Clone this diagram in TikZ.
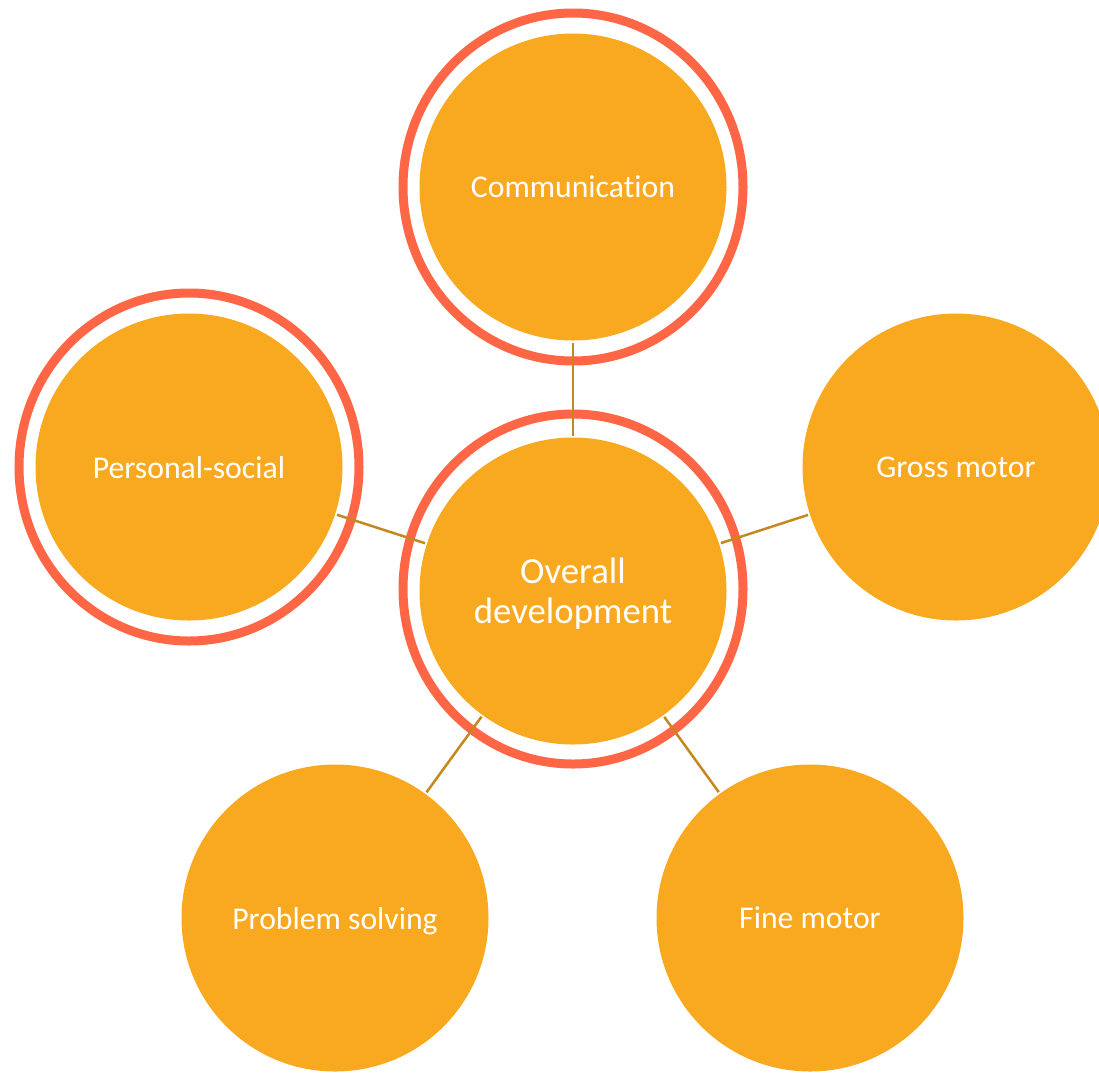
\documentclass[tikz,border=0pt]{standalone}
\usepackage{fontspec}
\setmainfont{Carlito}[RawFeature=-liga]
\definecolor{fillc}{RGB}{249,169,31}
\definecolor{ringc}{RGB}{255,102,69}
\definecolor{linec}{RGB}{198,136,30}
\begin{document}
\begin{tikzpicture}[x=1pt,y=-1pt,
  bubble/.style={circle, fill=fillc, minimum size=307pt, inner sep=0pt, outer sep=2pt,
    text=white, font=\fontsize{31.7}{40}\selectfont, align=center, text depth=0pt},
  bigtext/.style={font=\fontsize{36.8}{40}\selectfont},
  ring/.style={draw=ringc, line width=9pt},
  link/.style={draw=linec, line width=2.5pt}]
\useasboundingbox (0,0) rectangle (1099,1072);
\clip (0,0) rectangle (1099,1072);
\node[bubble, bigtext] (ov) at (573,591) {Overall\\development};
\node[bubble] (comm) at (573,187) {Communication};
\node[bubble] (ps) at (189,467) {Personal-social};
\node[bubble] (gm) at (956,467) {Gross motor};
\node[bubble] (prob) at (335,918) {Problem solving};
\node[bubble] (fine) at (810,918) {Fine motor};
\draw[ring] ([yshift=2pt]ov.center) ellipse[x radius=170, y radius=175];
\draw[ring] (comm.center) ellipse[x radius=170, y radius=174];
\draw[ring] (ps.center) ellipse[x radius=170, y radius=174];
\draw[link] (ov) -- (comm);
\draw[link] (ov) -- (ps);
\draw[link] (ov) -- (gm);
\draw[link] (ov) -- (prob);
\draw[link] (ov) -- (fine);
\end{tikzpicture}
\end{document}
